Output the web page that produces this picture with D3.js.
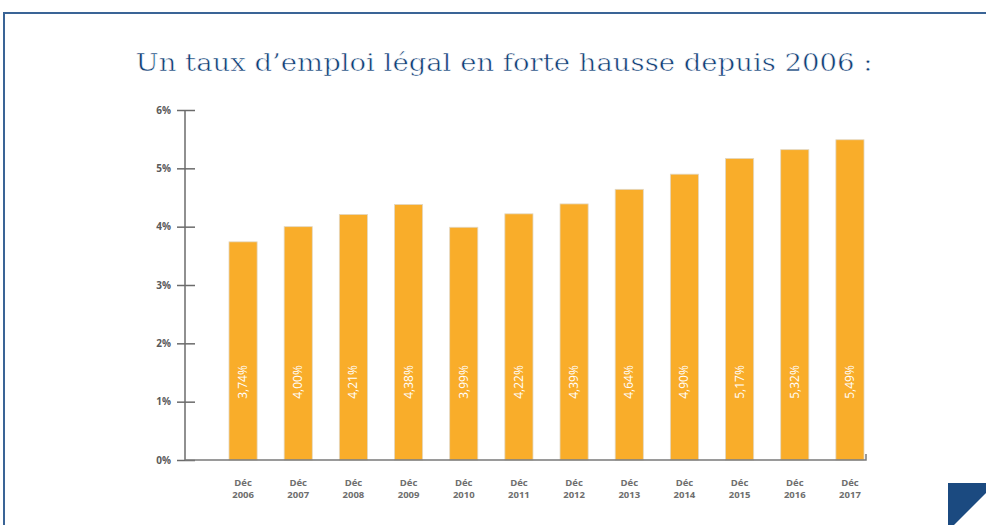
<!DOCTYPE html>
<html>
<head>
<meta charset="utf-8">
<script src="https://cdn.jsdelivr.net/npm/d3@7"></script>
<style>
  body { margin: 0; background: #fff; }
  svg { display: block; }
</style>
</head>
<body>
<div id="chart"></div>
<script>
// Chart data
const years = ["2006", "2007", "2008", "2009", "2010", "2011", "2012", "2013", "2014", "2015", "2016", "2017"];
const rates = [3.74, 4.00, 4.21, 4.38, 3.99, 4.22, 4.39, 4.64, 4.90, 5.17, 5.32, 5.49];
const yTicks = [0, 1, 2, 3, 4, 5, 6];
const title = "Un taux d\u2019emploi légal en forte hausse depuis 2006 :";

const width = 986;
const height = 525;

const svg = d3.select("#chart")
    .append("svg")
    .attr("width", width)
    .attr("height", height);

// Frame around the panel
svg.append("path")
    .attr("d", "M4,525 V13 H990")
    .attr("fill", "none")
    .attr("stroke", "#3a6496")
    .attr("stroke-width", 2);

// Title (thin white stroke to lighten the glyphs)
svg.append("text")
    .attr("x", 504)
    .attr("y", 71)
    .attr("text-anchor", "middle")
    .attr("textLength", 737)
    .attr("lengthAdjust", "spacingAndGlyphs")
    .style("font-family", "'DejaVu Serif', serif")
    .style("font-size", "25px")
    .style("fill", "#103e76")
    .style("stroke", "#fff")
    .style("stroke-width", "0.55px")
    .text(title);

// Scales
const x = d3.scaleBand()
    .domain(years)
    .range([227, 866])
    .paddingInner(0.49)
    .paddingOuter(0.036);

const y = d3.scaleLinear()
    .domain([0, 6])
    .range([460, 110]);

// Y axis
const yAxis = svg.append("g")
    .attr("transform", "translate(185,0)")
    .call(d3.axisLeft(y).tickValues(yTicks).tickSize(8).tickFormat(d => d + "%"));
yAxis.select(".domain").remove();
yAxis.selectAll(".tick line")
    .attr("x2", 10)
    .attr("x1", -8)
    .attr("stroke", "#6b6b6b")
    .attr("stroke-width", 1.5);
yAxis.selectAll(".tick text")
    .attr("x", -14)
    .style("font-family", "'Open Sans', sans-serif")
    .style("font-size", "10px")
    .style("font-weight", "700")
    .style("fill", "#5a5a5a");
yAxis.append("line")
    .attr("x1", 0).attr("x2", 0)
    .attr("y1", y(6)).attr("y2", y(0))
    .attr("stroke", "#6b6b6b")
    .attr("stroke-width", 1.5);

// Bars
svg.selectAll("rect.bar")
    .data(rates)
    .enter()
    .append("rect")
    .attr("class", "bar")
    .attr("x", (d, i) => x(years[i]))
    .attr("y", d => y(d))
    .attr("width", x.bandwidth())
    .attr("height", d => y(0) - y(d))
    .attr("fill", "#f9ad2a")
    .attr("stroke", "#e2d8c4")
    .attr("stroke-width", 0.8);

// Value labels inside bars
svg.selectAll("text.val")
    .data(rates)
    .enter()
    .append("text")
    .attr("class", "val")
    .attr("transform", (d, i) => `translate(${x(years[i]) + x.bandwidth() / 2 + 4},382) rotate(-90)`)
    .attr("text-anchor", "middle")
    .style("font-family", "'Open Sans', sans-serif")
    .style("font-size", "12px")
    .style("fill", "#fff")
    .text(d => d.toFixed(2).replace(".", ",") + "%");

// X axis baseline
svg.append("path")
    .attr("d", `M185,${y(0)} H866 V${y(0) - 6}`)
    .attr("fill", "none")
    .attr("stroke", "#7a7a7a")
    .attr("stroke-width", 1.5);

// X labels
const xl = svg.selectAll("g.xl")
    .data(years)
    .enter()
    .append("g")
    .attr("class", "xl")
    .attr("transform", d => `translate(${x(d) + x.bandwidth() / 2},0)`);
xl.append("text")
    .attr("y", 486)
    .text("Déc");
xl.append("text")
    .attr("y", 498)
    .text(d => d);
xl.selectAll("text")
    .attr("text-anchor", "middle")
    .style("font-family", "'Open Sans', sans-serif")
    .style("font-size", "9.5px")
    .style("font-weight", "700")
    .style("fill", "#6e6e6e");

// Corner decoration
svg.append("path")
    .attr("d", "M948,483 H986 V493 L954,525 H948 Z")
    .attr("fill", "#1b4a80");
</script>
</body>
</html>
